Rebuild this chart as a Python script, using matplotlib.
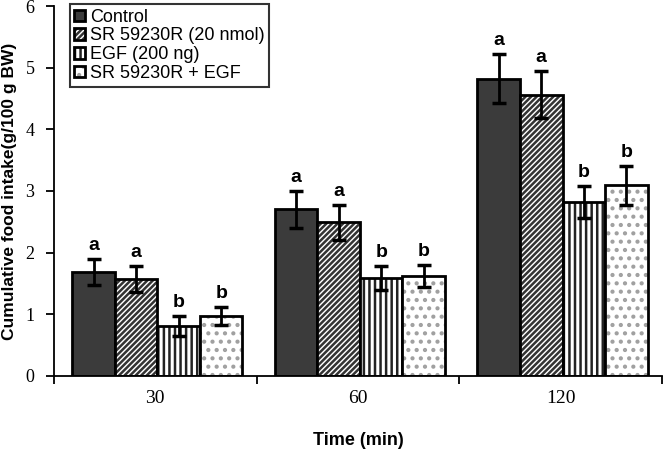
import matplotlib
matplotlib.use("Agg")
import matplotlib.pyplot as plt
import numpy as np

categories = ["30", "60", "120"]
series = ["Control", "SR 59230R (20 nmol)", "EGF (200 ng)", "SR 59230R + EGF"]
control = [1.68, 2.70, 4.82]
sr = [1.57, 2.49, 4.56]
egf = [0.81, 1.59, 2.82]
combo = [0.97, 1.62, 3.09]
control_err = [0.21, 0.30, 0.40]
sr_err = [0.21, 0.28, 0.38]
egf_err = [0.16, 0.20, 0.26]
combo_err = [0.15, 0.18, 0.31]
letters = [["a", "a", "a"], ["a", "a", "a"], ["b", "b", "b"], ["b", "b", "b"]]

values = [control, sr, egf, combo]
errors = [control_err, sr_err, egf_err, combo_err]
faces = ["#3b3b3b", "white", "white", "white"]
hatches = [None, "//////", "|||", ".."]
hatch_colors = ["#3b3b3b", "#333333", "#222222", "#a0a0a0"]

plt.rcParams["hatch.linewidth"] = 1.8
fig = plt.figure(figsize=(6.65, 4.63), dpi=100)
ax = fig.add_axes([0.0812, 0.188, 0.914, 0.799])

x = np.arange(len(categories))
w = 0.21
for i, (v, e) in enumerate(zip(values, errors)):
    pos = x + (i - 1.5) * w + 0.01
    bars = ax.bar(pos, v, w, color=faces[i], edgecolor="black", linewidth=2,
                  hatch=hatches[i], label=series[i], zorder=2)
    for b in bars:
        b._hatch_color = matplotlib.colors.to_rgba(hatch_colors[i])
    ax.errorbar(pos, v, yerr=e, fmt="none", ecolor="black", elinewidth=2,
                capsize=5, capthick=2.5, zorder=3)
    for p, val, err, lab in zip(pos, v, e, letters[i]):
        ax.text(p, val + err + 0.08, lab, ha="center", va="bottom",
                fontsize=14, fontweight="bold", family="Liberation Sans")

ax.set_xlim(-0.5, 2.5)
ax.set_ylim(0, 6)
ax.spines["top"].set_visible(False)
ax.spines["right"].set_visible(False)
ax.spines["left"].set_linewidth(1.3)
ax.spines["bottom"].set_linewidth(1.3)

ax.set_xticks([-0.5, 0.5, 1.5, 2.5])
ax.set_xticklabels([])
ax.set_xticks(x, minor=True)
ax.set_xticklabels(categories, minor=True, family="Liberation Serif", fontsize=14)
ax.tick_params(axis="x", which="minor", length=0, pad=10)
ax.tick_params(axis="x", which="major", length=6, width=1.3, direction="out")
ax.set_yticks(range(0, 7))
ax.set_yticklabels([str(t) for t in range(0, 7)], family="Liberation Serif", fontsize=13)
ax.tick_params(axis="y", length=6, width=1.3, direction="out", pad=8)

ax.set_xlabel("Time (min)", fontsize=13, fontweight="bold", family="Liberation Sans", labelpad=18)
ax.set_ylabel("Cumulative food intake(g/100 g BW)", fontsize=12.5, fontweight="bold",
              family="Liberation Sans", labelpad=6)

leg = ax.legend(loc="upper left", bbox_to_anchor=(0.026, 1.005), frameon=True, fancybox=False,
                edgecolor="black", handlelength=0.6, handleheight=0.6,
                handletextpad=0.25, labelspacing=0.1, borderpad=0.25, borderaxespad=0,
                prop={"family": "Liberation Sans", "size": 13})
leg.get_frame().set_linewidth(1.5)

fig.savefig("out.png", dpi=100)
